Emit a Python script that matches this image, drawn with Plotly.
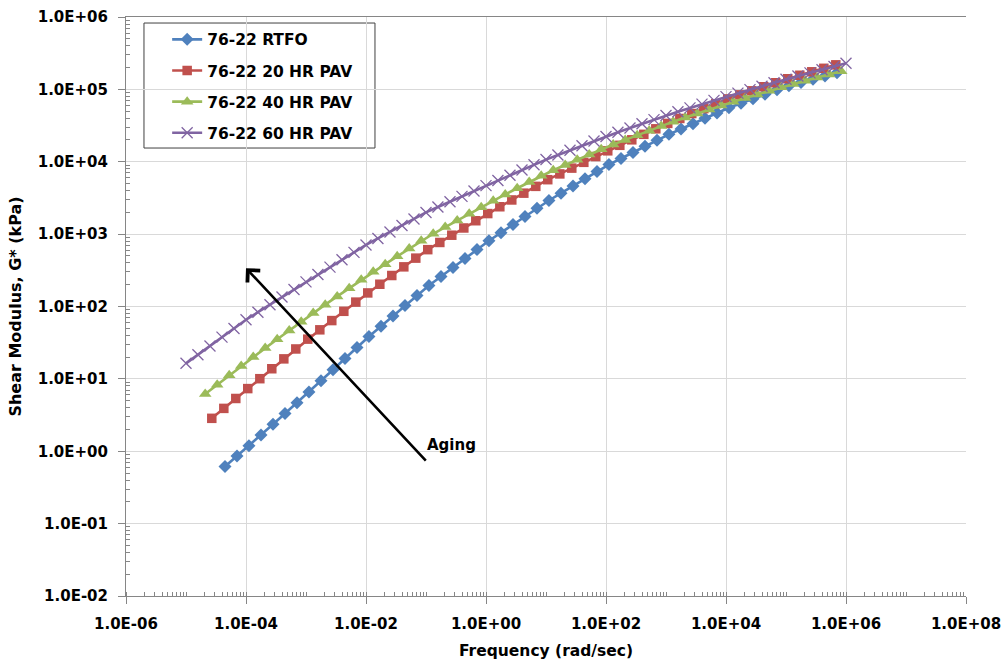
import plotly.graph_objects as go

# Frequency sweeps (rad/sec) and complex shear modulus |G*| (kPa) for each aging state
freq_rtfo = [4.47e-5, 7.08e-5, 1.12e-4, 1.78e-4, 2.82e-4, 4.47e-4, 7.08e-4,
             1.12e-3, 1.78e-3, 2.82e-3, 4.47e-3, 7.08e-3, 1.12e-2, 1.78e-2,
             2.82e-2, 4.47e-2, 7.08e-2, 0.112, 0.178, 0.282, 0.447, 0.708,
             1.12, 1.78, 2.82, 4.47, 7.08, 11.2, 17.8, 28.2, 44.7, 70.8,
             112, 178, 282, 447, 708, 1120, 1780, 2820, 4470, 7080,
             1.12e4, 1.78e4, 2.82e4, 4.47e4, 7.08e4, 1.12e5, 1.78e5, 2.82e5,
             4.47e5, 7.08e5]
gstar_rtfo = [0.617, 0.857, 1.19, 1.68, 2.36, 3.32, 4.67, 6.59, 9.39, 13.4,
              19.1, 27.2, 38.5, 53.4, 74.1, 103, 142, 195, 260, 346, 460, 612,
              809, 1047, 1355, 1754, 2270, 2917, 3673, 4624, 5821, 7328, 9141,
              11092, 13459, 16331, 19815, 23906, 28350, 33620, 39870, 47280,
              55680, 64200, 74060, 85420, 98510, 112460, 124740, 138360,
              153110, 169820]

freq_pav20 = [2.69e-5, 4.27e-5, 6.76e-5, 1.07e-4, 1.70e-4, 2.69e-4, 4.27e-4,
              6.76e-4, 1.07e-3, 1.70e-3, 2.69e-3, 4.27e-3, 6.76e-3, 1.07e-2,
              1.70e-2, 2.69e-2, 4.27e-2, 6.76e-2, 0.107, 0.170, 0.269, 0.427,
              0.676, 1.07, 1.70, 2.69, 4.27, 6.76, 10.7, 17.0, 26.9, 42.7,
              67.6, 107, 170, 269, 427, 676, 1070, 1700, 2690, 4270, 6760,
              1.07e4, 1.70e4, 2.69e4, 4.27e4, 6.76e4, 1.07e5, 1.70e5, 2.69e5,
              4.27e5, 6.76e5]
gstar_pav20 = [2.85, 3.91, 5.36, 7.34, 10.06, 13.8, 18.9, 25.9, 35.4, 47.6,
               63.9, 85.8, 115, 154, 203, 268, 353, 466, 610, 767, 966, 1216,
               1531, 1923, 2388, 2965, 3681, 4571, 5649, 6792, 8166, 9817,
               11803, 14158, 16866, 20090, 23930, 28510, 33880, 39630, 46340,
               54200, 63390, 73790, 83950, 95500, 108640, 123590, 140280,
               156680, 174980, 195430, 218270]

freq_pav40 = [2.09e-5, 3.31e-5, 5.25e-5, 8.32e-5, 1.32e-4, 2.09e-4, 3.31e-4,
              5.25e-4, 8.32e-4, 1.32e-3, 2.09e-3, 3.31e-3, 5.25e-3, 8.32e-3,
              1.32e-2, 2.09e-2, 3.31e-2, 5.25e-2, 8.32e-2, 0.132, 0.209, 0.331,
              0.525, 0.832, 1.32, 2.09, 3.31, 5.25, 8.32, 13.2, 20.9, 33.1,
              52.5, 83.2, 132, 209, 331, 525, 832, 1320, 2090, 3310, 5250,
              8320, 1.32e4, 2.09e4, 3.31e4, 5.25e4, 8.32e4, 1.32e5, 2.09e5,
              3.31e5, 5.25e5, 8.32e5]
gstar_pav40 = [6.17, 8.30, 11.2, 15.1, 20.1, 26.6, 35.2, 46.7, 61.8, 81.1,
               106, 138, 179, 234, 301, 385, 493, 631, 807, 1012, 1250, 1545,
               1910, 2360, 2897, 3532, 4305, 5248, 6397, 7638, 9016, 10641,
               12560, 14825, 17298, 20045, 23227, 26915, 31189, 35810, 40738,
               46345, 52723, 59979, 67608, 75858, 85114, 95499, 107152,
               119121, 131826, 145546, 161065, 177828]

freq_pav60 = [1.00e-5, 1.58e-5, 2.51e-5, 3.98e-5, 6.31e-5, 1.00e-4, 1.58e-4,
              2.51e-4, 3.98e-4, 6.31e-4, 1.00e-3, 1.58e-3, 2.51e-3, 3.98e-3,
              6.31e-3, 1.00e-2, 1.58e-2, 2.51e-2, 3.98e-2, 6.31e-2, 0.100,
              0.158, 0.251, 0.398, 0.631, 1.00, 1.58, 2.51, 3.98, 6.31, 10.0,
              15.8, 25.1, 39.8, 63.1, 100, 158, 251, 398, 631, 1000, 1580,
              2510, 3980, 6310, 1.00e4, 1.58e4, 2.51e4, 3.98e4, 6.31e4, 1.00e5,
              1.58e5, 2.51e5, 3.98e5, 6.31e5, 1.00e6]
gstar_pav60 = [16.4, 21.6, 28.5, 37.7, 49.7, 65.6, 83.4, 106, 135, 172, 219,
               277, 350, 443, 560, 708, 871, 1072, 1318, 1622, 1995, 2366,
               2805, 3327, 3945, 4677, 5521, 6516, 7691, 9078, 10715, 12417,
               14388, 16672, 19320, 22387, 25586, 29242, 33420, 38194, 43652,
               49204, 55463, 62517, 70469, 79433, 88716, 99083, 110662, 123595,
               138038, 152757, 169044, 187068, 207014, 229087]

series_names = ["76-22 RTFO", "76-22 20 HR PAV", "76-22 40 HR PAV", "76-22 60 HR PAV"]

x_tickvals = [1e-6, 1e-4, 1e-2, 1e0, 1e2, 1e4, 1e6, 1e8]
x_ticktext = ["1.0E-06", "1.0E-04", "1.0E-02", "1.0E+00",
              "1.0E+02", "1.0E+04", "1.0E+06", "1.0E+08"]
y_tickvals = [1e-2, 1e-1, 1e0, 1e1, 1e2, 1e3, 1e4, 1e5, 1e6]
y_ticktext = ["1.0E-02", "1.0E-01", "1.0E+00", "1.0E+01", "1.0E+02",
              "1.0E+03", "1.0E+04", "1.0E+05", "1.0E+06"]

# minor log ticks inside every decade
x_minor = [m * 10.0 ** e for e in range(-6, 8) for m in range(1, 10)]
y_minor = [m * 10.0 ** e for e in range(-2, 6) for m in range(2, 10)]

# Arrow annotation (tail -> head, in log10 axis units) and its label
aging_label = "Aging"
arrow_tail = (-0.98, -0.15)
arrow_head = (-4.0, 2.53)
aging_pos = (-0.57, 0.09)

FONT = "DejaVu Sans"
AXIS_GREY = "#868686"
GRID_GREY = "#d9d9d9"

styles = [
    dict(color="#4F81BD", symbol="diamond", size=10, lw=0),
    dict(color="#C0504D", symbol="square", size=9.5, lw=0),
    dict(color="#9BBB59", symbol="triangle-up", size=11, lw=0),
    dict(color="#8064A2", symbol="x-thin", size=11, lw=1.3),
]
datasets = [(freq_rtfo, gstar_rtfo), (freq_pav20, gstar_pav20),
            (freq_pav40, gstar_pav40), (freq_pav60, gstar_pav60)]

fig = go.Figure()
for name, (fx, gy), st in zip(series_names, datasets, styles):
    fig.add_trace(go.Scatter(
        x=fx, y=gy, name=name, mode="lines+markers", legendgroup=name,
        line=dict(color=st["color"], width=2.6),
        marker=dict(symbol=st["symbol"], size=st["size"], color=st["color"],
                    line=dict(color=st["color"], width=st["lw"])),
    ))

fig.add_annotation(
    x=arrow_head[0], y=arrow_head[1], ax=arrow_tail[0], ay=arrow_tail[1],
    xref="x", yref="y", axref="x", ayref="y", text="", showarrow=True,
    arrowhead=4, arrowsize=1.3, arrowwidth=2.6, arrowcolor="black",
)
fig.add_annotation(
    x=aging_pos[0], y=aging_pos[1], xref="x", yref="y", text=aging_label,
    showarrow=False, font=dict(family=FONT, size=15, color="black", weight="bold"),
)

# Legend frame
fig.add_shape(type="rect", xref="paper", yref="paper",
              x0=0.0214, x1=0.2964, y0=0.7737, y1=0.9896,
              line=dict(color="#404040", width=1), fillcolor="white", layer="below")

tick_font = dict(family=FONT, size=15, color="black", weight="bold")

axis_common = dict(
    type="log", showline=True, linecolor=AXIS_GREY, linewidth=1,
    showgrid=True, gridcolor=GRID_GREY, gridwidth=1, zeroline=False,
    ticks="outside", ticklen=7, tickcolor=AXIS_GREY, tickfont=tick_font,
    tickmode="array", automargin=False, ticklabelstandoff=7,
)

fig.update_layout(
    width=1003, height=663,
    margin=dict(l=126, r=37, t=17, b=67),
    paper_bgcolor="white", plot_bgcolor="white",
    showlegend=True,
    legend=dict(x=0.049, y=0.990, xanchor="left", yanchor="top",
                bgcolor="rgba(0,0,0,0)", borderwidth=0, tracegroupgap=8,
                font=dict(family=FONT, size=15.5, color="black", weight="bold")),
    xaxis=dict(**axis_common, range=[-6, 8], tickvals=x_tickvals,
               ticktext=x_ticktext, mirror=True,
               minor=dict(ticks="inside", ticklen=4, tickcolor=AXIS_GREY,
                          tickvals=x_minor, showgrid=False),
               title=dict(text="Frequency (rad/sec)", standoff=13,
                          font=dict(family=FONT, size=15.5, color="black", weight="bold"))),
    yaxis=dict(**axis_common, range=[-2, 6], tickvals=y_tickvals,
               ticktext=y_ticktext, mirror=False,
               minor=dict(ticks="inside", ticklen=4, tickcolor=AXIS_GREY,
                          tickvals=y_minor, showgrid=False),
               title=dict(text="Shear Modulus, G* (kPa)", standoff=12,
                          font=dict(family=FONT, size=16, color="black", weight="bold"))),
)

fig.write_html("out.html")
